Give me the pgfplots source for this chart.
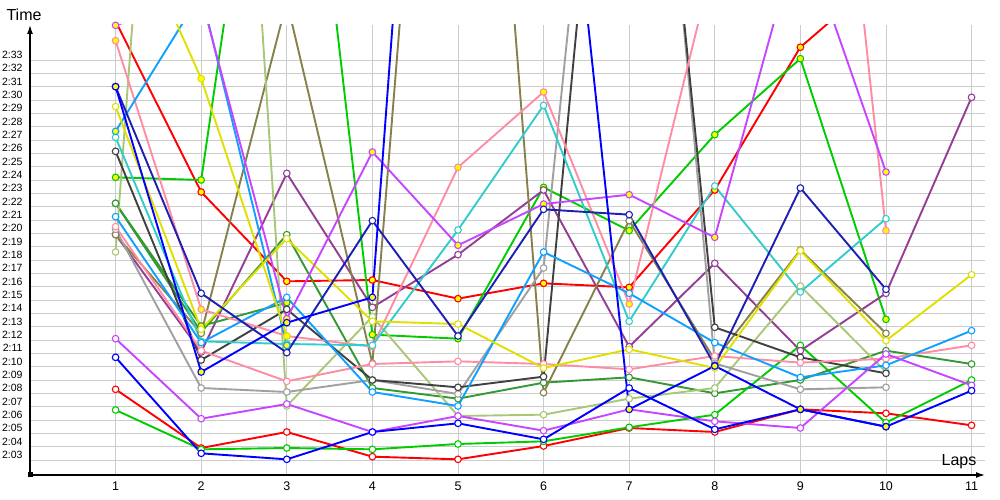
\documentclass[border=0pt]{standalone}
\usepackage{pgfplots}
\pgfplotsset{compat=1.18}
\usepackage{fontspec}
\setmainfont{Liberation Sans}
\usetikzlibrary{arrows.meta}
\definecolor{cRed}{HTML}{FF0000}
\definecolor{cGreen}{HTML}{00CC00}
\definecolor{cBlue}{HTML}{0000FF}
\definecolor{cNavy}{HTML}{1E1EB4}
\definecolor{cAzure}{HTML}{10A0FF}
\definecolor{cCyan}{HTML}{33CCCC}
\definecolor{cPink}{HTML}{FF8CA5}
\definecolor{cMagenta}{HTML}{C845FF}
\definecolor{cYellow}{HTML}{E0E000}
\definecolor{cOlive}{HTML}{86804A}
\definecolor{cBlack}{HTML}{404040}
\definecolor{cGray}{HTML}{A0A0A0}
\definecolor{cLightGreen}{HTML}{A8C878}
\definecolor{cPurple}{HTML}{953D95}
\definecolor{cDarkGreen}{HTML}{339933}
\definecolor{cFill}{HTML}{FFFF00}
\definecolor{gridc}{HTML}{CCCCCC}
\pgfplotsset{
  serW/.style={line width=1.9pt, color=#1, mark=*, mark size=3.3pt,
    mark options={draw=#1, fill=white, line width=1.1pt}},
  serY/.style={line width=1.9pt, color=#1, mark=*, mark size=3.3pt,
    mark options={draw=#1, fill=cFill, line width=1.1pt}},
}
\begin{document}
\begin{tikzpicture}
\useasboundingbox (-30pt,-25pt) rectangle (970pt,475pt);
\begin{axis}[
  at={(0pt,0pt)}, anchor=south west,
  scale only axis, width=955pt, height=450pt,
  xmin=0, xmax=11.157, ymin=1.875, ymax=35.625,
  axis lines=left,
  axis line style={line width=1.3pt, black, -{Latex[length=9pt,width=6pt]}},
  xtick={1,2,3,4,5,6,7,8,9,10,11},
  ytick={3,4,5,6,7,8,9,10,11,12,13,14,15,16,17,18,19,20,21,22,23,24,25,26,27,28,29,30,31,32,33},
  yticklabels={2:03,2:04,2:05,2:06,2:07,2:08,2:09,2:10,2:11,2:12,2:13,2:14,2:15,2:16,2:17,2:18,2:19,2:20,2:21,2:22,2:23,2:24,2:25,2:26,2:27,2:28,2:29,2:30,2:31,2:32,2:33},
  major tick length=0pt,
  grid=major, grid style={line width=0.9pt, gridc},
  xticklabel style={font=\fontsize{12.5}{14}\selectfont, yshift=-3pt},
  yticklabel style={font=\fontsize{10.5}{12}\selectfont, anchor=east, xshift=-4pt, yshift=5pt},
  /pgf/number format/assume math mode=true,
  clip=true,
]
% red, yellow markers
\addplot[serY=cRed] coordinates {(1,35.9)(2,23.1)(3,16.4)(4,16.5)(5,15.1)(6,16.25)(7,15.95)(8,23.25)(9,33.96)(10,39.5)};
% red, white markers
\addplot[serW=cRed] coordinates {(1,8.3)(2,3.9)(3,5.1)(4,3.25)(5,3.05)(6,4.05)(7,5.4)(8,5.1)(9,6.8)(10,6.5)(11,5.6)};
% green, yellow markers
\addplot[serY=cGreen] coordinates {(1,24.2)(2,24.0)(3,68)(4,12.4)(5,12.1)(6,23.45)(7,20.2)(8,27.4)(9,33.1)(10,13.55)};
% green, white markers
\addplot[serW=cGreen] coordinates {(1,6.75)(2,3.8)(3,3.9)(4,3.8)(5,4.2)(6,4.4)(7,5.45)(8,6.4)(9,11.6)(10,5.8)(11,9.0)};
% purple
\addplot[serW=cPurple] coordinates {(1,19.9)(2,11.1)(3,24.5)(4,14.45)(5,18.4)(6,23.25)(7,11.5)(8,17.75)(9,11.2)(10,15.5)(11,30.2)};
% dark green
\addplot[serY=cDarkGreen] coordinates {(1,22.25)(2,13.05)(3,14.8)};
\addplot[serW=cDarkGreen] coordinates {(1,22.25)(2,12.6)(3,19.9)(4,8.4)(5,7.6)(6,8.8)(7,9.2)(8,8.0)(9,9.0)(10,11.2)(11,10.2)};
% olive
\addplot[serW=cOlive] coordinates {(1,19.9)(2,12.5)(3,37.4)(4,10.25)(5,90)(6,8.05)(7,20.95)(8,10.5)(9,18.75)(10,12.5)};
% light green
\addplot[serW=cLightGreen] coordinates {(1,18.6)(2,106)(3,7.05)(4,13.75)(5,6.3)(6,6.4)(7,7.6)(8,8.4)(9,16.05)(10,9.6)};
% gray
\addplot[serW=cGray] coordinates {(1,20.3)(2,8.4)(3,8.1)(4,9.0)(5,7.95)(6,17.4)(7,80)(8,10.25)(9,8.3)(10,8.45)};
% dark gray
\addplot[serW=cBlack] coordinates {(1,26.15)(2,10.5)(3,14.3)(4,9.0)(5,8.45)(6,9.25)(7,77)(8,12.95)(9,10.7)(10,9.5)};
% pink
\addplot[serW=cPink] coordinates {(1,20.5)(2,11.2)(3,8.9)(4,10.2)(5,10.4)(6,10.2)(7,9.8)(8,10.8)(9,10.3)(10,10.6)(11,11.6)};
\addplot[serY=cPink] coordinates {(1,34.45)(2,14.3)(3,12.3)(4,11.5)(5,24.95)(6,30.6)(7,14.7)(8,40.8)(9,80.8)(10,20.2)};
% cyan
\addplot[serW=cCyan] coordinates {(1,27.2)(2,11.9)(3,11.7)(4,11.6)(5,20.25)(6,29.6)(7,13.4)(8,23.55)(9,15.6)(10,21.1)};
% azure
\addplot[serW=cAzure] coordinates {(1,21.25)(2,11.8)(3,15.2)(4,8.1)(5,7.05)(6,18.6)(7,15.5)(8,11.8)(9,9.2)(10,10.1)(11,12.7)};
\addplot[serY=cAzure] coordinates {(1,27.65)(2,38)(3,11.6)};
% yellow
\addplot[serW=cYellow] coordinates {(1,29.5)(2,12.8)(3,19.6)(4,13.4)(5,13.2)(6,9.9)(7,11.3)(8,9.9)(9,18.7)(10,11.95)(11,16.9)};
\addplot[serY=cYellow] coordinates {(1,46)(2,31.6)(3,12.3)};
% magenta
\addplot[serW=cMagenta] coordinates {(1,12.1)(2,6.1)(3,7.2)(4,5.1)(5,6.3)(6,5.2)(7,6.8)(8,5.9)(9,5.4)(10,10.95)(11,8.6)};
\addplot[serY=cMagenta] coordinates {(1,35.6)(2,37.7)(3,13.6)(4,26.1)(5,19.1)(6,22.2)(7,22.9)(8,19.7)(9,43)(10,24.6)};
% navy
\addplot[serW=cNavy] coordinates {(1,31.0)(2,15.5)(3,11.05)(4,20.95)(5,12.3)(6,21.8)(7,21.4)(8,10.1)(9,23.4)(10,15.8)};
% blue
\addplot[serW=cBlue] coordinates {(1,10.7)(2,3.5)(3,3.05)(4,5.1)(5,5.75)(6,4.55)(7,8.4)(8,5.3)(9,6.8)(10,5.5)(11,8.2)};
\addplot[serY=cBlue] coordinates {(1,31.0)(2,9.6)(3,13.3)(4,15.2)(5,102)(6,67)(7,6.8)(8,10.05)(9,6.8)(10,5.5)};
\end{axis}
\fill[black] (-2.5pt,-2.5pt) rectangle (2.5pt,2.5pt);
\node[font=\fontsize{16}{18}\selectfont] at (-6pt,460pt) {Time};
\node[font=\fontsize{16}{18}\selectfont] at (929pt,13pt) {Laps};
\end{tikzpicture}
\end{document}
